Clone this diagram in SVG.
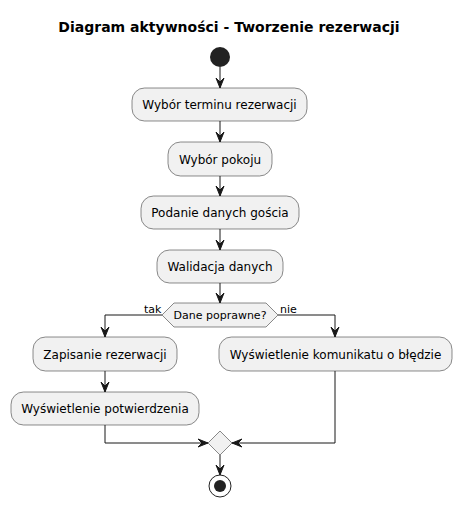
<svg xmlns="http://www.w3.org/2000/svg" width="461" height="507" viewBox="0 0 461 507">
<style>
.box{fill:#F1F1F1;stroke:#181818;stroke-width:0.5}
.t{font-family:"DejaVu Sans",sans-serif;font-size:12px;fill:#000;text-anchor:middle}
.lbl{font-family:"DejaVu Sans",sans-serif;font-size:11px;fill:#000}
.ln{fill:none;stroke:#181818;stroke-width:1}
.ah{fill:#181818;stroke:#181818;stroke-width:1}
</style>
<rect width="461" height="507" fill="#FFFFFF"/>
<text x="229" y="32" style="font-family:'DejaVu Sans',sans-serif;font-size:14px;font-weight:bold;text-anchor:middle">Diagram aktywności - Tworzenie rezerwacji</text>
<g id="start"><circle cx="220" cy="57" r="10" fill="#222222"/></g>
<g id="n1"><rect class="box" x="132" y="88" width="175" height="33" rx="12.5"/><text class="t" x="219.5" y="109">Wybór terminu rezerwacji</text></g>
<g id="n2"><rect class="box" x="168" y="142" width="104" height="34" rx="12.5"/><text class="t" x="220" y="163.5">Wybór pokoju</text></g>
<g id="n3"><rect class="box" x="141" y="196" width="158" height="33" rx="12.5"/><text class="t" x="220" y="217">Podanie danych gościa</text></g>
<g id="n4"><rect class="box" x="157" y="250" width="126" height="33" rx="12.5"/><text class="t" x="220" y="271">Walidacja danych</text></g>
<g id="d1"><polygon class="box" points="162,315 174,303 266,303 278,315 266,327 174,327"/><text class="t" x="220" y="319" style="font-size:11px">Dane poprawne?</text></g>
<g id="n5"><rect class="box" x="33" y="337" width="144" height="34" rx="12.5"/><text class="t" x="105" y="358.5">Zapisanie rezerwacji</text></g>
<g id="n6"><rect class="box" x="11" y="392" width="188" height="33" rx="12.5"/><text class="t" x="105" y="413">Wyświetlenie potwierdzenia</text></g>
<g id="n7"><rect class="box" x="219" y="337" width="233" height="34" rx="12.5"/><text class="t" x="335.5" y="358.5">Wyświetlenie komunikatu o błędzie</text></g>
<g id="merge"><polygon class="box" points="220,431 232,443 220,455 208,443"/></g>
<g id="end"><circle cx="220" cy="486" r="11" fill="none" stroke="#222222" stroke-width="1"/><circle cx="220" cy="486" r="6" fill="#222222"/></g>
<g id="connectors">
<path class="ln" d="M220,67 V88"/><polygon class="ah" points="216,78 220,88 224,78 220,82"/>
<path class="ln" d="M220,121 V142"/><polygon class="ah" points="216,132 220,142 224,132 220,136"/>
<path class="ln" d="M220,176 V196"/><polygon class="ah" points="216,186 220,196 224,186 220,190"/>
<path class="ln" d="M220,229 V250"/><polygon class="ah" points="216,240 220,250 224,240 220,244"/>
<path class="ln" d="M220,283 V303"/><polygon class="ah" points="216,293 220,303 224,293 220,297"/>
<path class="ln" d="M162,315 H105 V337"/><polygon class="ah" points="101,327 105,337 109,327 105,331"/>
<text class="lbl" x="144" y="313">tak</text>
<path class="ln" d="M278,315 H335 V337"/><polygon class="ah" points="331,327 335,337 339,327 335,331"/>
<text class="lbl" x="280" y="313">nie</text>
<path class="ln" d="M105,371 V392"/><polygon class="ah" points="101,382 105,392 109,382 105,386"/>
<path class="ln" d="M105,425 V443 H208"/><polygon class="ah" points="198,439 208,443 198,447 202,443"/>
<path class="ln" d="M335,371 V443 H232"/><polygon class="ah" points="242,439 232,443 242,447 238,443"/>
<path class="ln" d="M220,455 V475"/><polygon class="ah" points="216,465 220,475 224,465 220,469"/>
</g>
</svg>
